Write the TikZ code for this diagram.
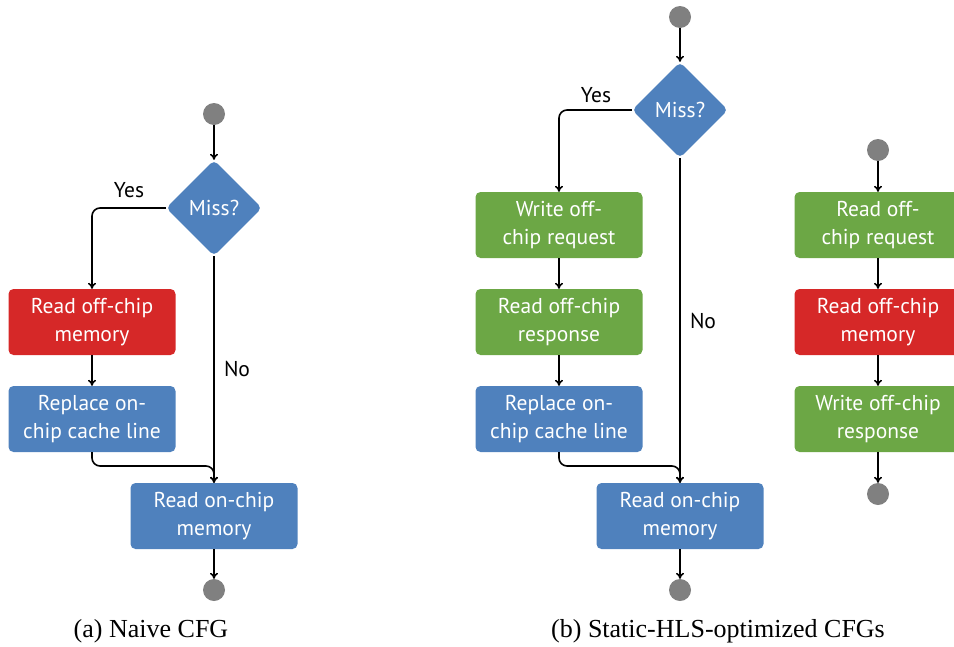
\documentclass[tikz,border=0pt]{standalone}
\usepackage{fontspec}
\setmainfont{Liberation Serif}
\newfontfamily\boxfont{PT Sans}
\usetikzlibrary{shapes.geometric,arrows.meta}
\definecolor{cfgblue}{RGB}{79,129,189}
\definecolor{cfgred}{RGB}{214,40,40}
\definecolor{cfggreen}{RGB}{108,167,69}
\definecolor{cfggray}{RGB}{128,128,128}
\tikzset{
  blk/.style={rectangle, rounded corners=5pt, minimum width=167pt, minimum height=66pt,
    inner sep=0pt, align=center, text=white,
    font=\boxfont\fontsize{21.5}{28}\selectfont},
  bluebox/.style={blk, fill=cfgblue},
  redbox/.style={blk, fill=cfgred},
  greenbox/.style={blk, fill=cfggreen},
  decision/.style={diamond, fill=cfgblue, rounded corners=5pt, minimum width=96pt,
    minimum height=96pt, inner sep=0pt, text=white,
    font=\boxfont\fontsize{21.5}{28}\selectfont},
  terminal/.style={circle, fill=cfggray, minimum size=22pt, inner sep=0pt},
  flow/.style={-{To[length=6pt,width=8pt]}, line width=1.6pt, black, rounded corners=8pt},
  lbl/.style={font=\boxfont\fontsize{21.5}{28}\selectfont, text=black},
  caption/.style={font=\fontsize{26}{30}\selectfont, text=black}
}
\begin{document}
\begin{tikzpicture}[x=1pt,y=-1pt]
\useasboundingbox (0,0) rectangle (954,646);
\clip (0,0) rectangle (954,646);

% (a) naive control-flow graph
\node[terminal] (as) at (214,114) {};
\node[decision] (ad) at (214,208) {Miss?};
\node[redbox] (ar) at (92,322) {Read off-chip\\memory};
\node[bluebox] (ap) at (92,419) {Replace on-\\chip cache line};
\node[bluebox] (am) at (214,516) {Read on-chip\\memory};
\node[terminal] (ae) at (214,590) {};
\coordinate (aj) at (214,466);

\draw[flow] (as) -- (ad.north);
\draw[flow] (ad.west) -| (ar.north);
\draw[flow] (ar) -- (ap);
\draw[flow] (ad.south) -- (am.north);
\draw[flow] (ap.south) |- (aj) -- (am.north);
\draw[flow] (am) -- (ae);
\node[lbl] (ay) at (129,190) {Yes};
\node[lbl] (an) at (237,369) {No};
\node[caption] (ca) at (151,631) {(a) Naive CFG};

% (b) static-HLS-optimized control-flow graphs
\node[terminal] (bs) at (680,17) {};
\node[decision] (bd) at (680,110) {Miss?};
\node[greenbox] (bw) at (559,225) {Write off-\\chip request};
\node[greenbox] (br) at (559,322) {Read off-chip\\response};
\node[bluebox] (bp) at (559,419) {Replace on-\\chip cache line};
\node[bluebox] (bm) at (680,516) {Read on-chip\\memory};
\node[terminal] (be) at (680,590) {};
\coordinate (bj) at (680,466);

\draw[flow] (bs) -- (bd.north);
\draw[flow] (bd.west) -| (bw.north);
\draw[flow] (bw) -- (br);
\draw[flow] (br) -- (bp);
\draw[flow] (bd.south) -- (bm.north);
\draw[flow] (bp.south) |- (bj) -- (bm.north);
\draw[flow] (bm) -- (be);
\node[lbl] (by) at (596,95) {Yes};
\node[lbl] (bn) at (703,321) {No};

% off-chip memory server
\node[terminal] (cs) at (878,150) {};
\node[greenbox] (cq) at (878,225) {Read off-\\chip request};
\node[redbox] (cr) at (878,322) {Read off-chip\\memory};
\node[greenbox] (cw) at (878,419) {Write off-chip\\response};
\node[terminal] (ce) at (878,494) {};

\draw[flow] (cs) -- (cq);
\draw[flow] (cq) -- (cr);
\draw[flow] (cr) -- (cw);
\draw[flow] (cw) -- (ce);

\node[caption] (cb) at (718,631) {(b) Static-HLS-optimized CFGs};
\end{tikzpicture}
\end{document}
